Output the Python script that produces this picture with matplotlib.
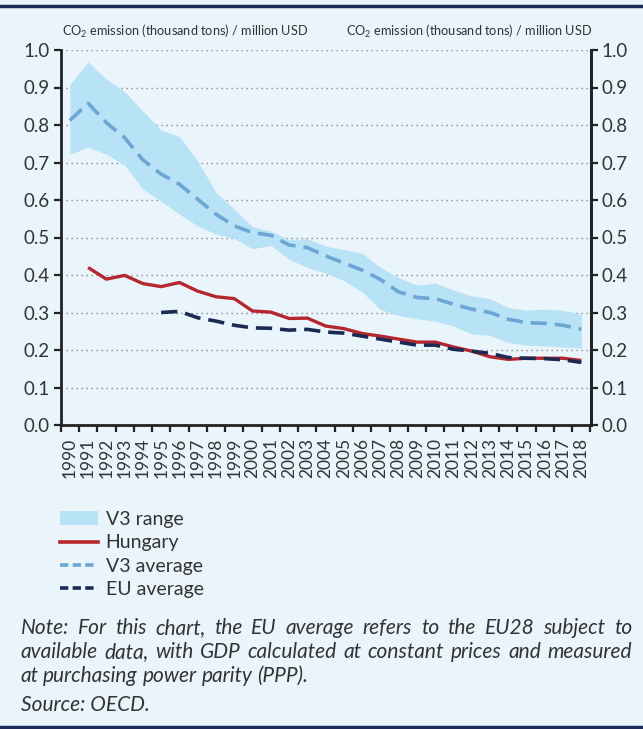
import matplotlib
matplotlib.use("Agg")
import matplotlib.pyplot as plt
import numpy as np
from matplotlib.patches import Patch
from matplotlib.lines import Line2D

plt.rcParams['font.family'] = ['Lato', 'DejaVu Sans']
plt.rcParams['mathtext.fontset'] = 'custom'
plt.rcParams['mathtext.rm'] = 'Lato'
plt.rcParams['mathtext.it'] = 'Lato:italic'

years = [str(y) for y in range(1990, 2019)]

v3_upper = [0.908, 0.968, 0.922, 0.889, 0.837, 0.786, 0.769, 0.704, 0.620, 0.575,
            0.529, 0.517, 0.495, 0.497, 0.477, 0.468, 0.458, 0.420, 0.393, 0.373,
            0.378, 0.360, 0.344, 0.337, 0.313, 0.306, 0.309, 0.306, 0.295]
v3_lower = [0.722, 0.741, 0.722, 0.693, 0.629, 0.597, 0.562, 0.531, 0.509, 0.497,
            0.470, 0.479, 0.442, 0.420, 0.405, 0.385, 0.355, 0.308, 0.292, 0.283,
            0.277, 0.264, 0.243, 0.239, 0.220, 0.213, 0.211, 0.208, 0.205]
v3_average = [0.812, 0.858, 0.806, 0.766, 0.707, 0.669, 0.642, 0.602, 0.562, 0.531,
              0.513, 0.506, 0.480, 0.473, 0.451, 0.432, 0.413, 0.388, 0.355, 0.340,
              0.337, 0.322, 0.309, 0.300, 0.282, 0.273, 0.271, 0.266, 0.255]
hungary = [None, 0.420, 0.389, 0.399, 0.377, 0.369, 0.380, 0.357, 0.342, 0.337,
           0.304, 0.301, 0.284, 0.285, 0.264, 0.257, 0.244, 0.237, 0.229, 0.221,
           0.221, 0.208, 0.197, 0.182, 0.175, 0.178, 0.178, 0.178, 0.172]
eu_average = [None, None, None, None, None, 0.300, 0.303, 0.286, 0.277, 0.266,
              0.259, 0.258, 0.253, 0.255, 0.248, 0.245, 0.237, 0.229, 0.221, 0.213,
              0.213, 0.202, 0.197, 0.191, 0.180, 0.178, 0.177, 0.174, 0.167]

axis_title = "CO$_2$ emission (thousand tons) / million USD"
legend_labels = ["V3 range", "Hungary", "V3 average", "EU average"]
note_lines = [
    "Note: For this chart, the EU average refers to the EU28 subject to",
    "available data, with GDP calculated at constant prices and measured",
    "at purchasing power parity (PPP).",
]
source_text = "Source: OECD."

BG = "#E9F4FB"
NAVY = "#1C2B5A"
TXT = "#333333"
C_RANGE = "#B8E2F5"
C_V3 = "#6CA6D4"
C_HU = "#B5272D"
C_EU = "#1B2A55"

W, H = 643, 729
fig = plt.figure(figsize=(W / 100, H / 100), dpi=100, facecolor=BG)

def fx(px):
    return px / W

def fy(py):
    return 1 - py / H

ax = fig.add_axes([fx(60.7), fy(425), fx(590.5) - fx(60.7), fy(50) - fy(425)])
ax.set_facecolor(BG)
x = np.arange(len(years))

def arr(v):
    return np.array([np.nan if a is None else a for a in v], dtype=float)

ax.fill_between(x, arr(v3_lower), arr(v3_upper), color=C_RANGE, lw=0, zorder=1)
ax.plot(x, arr(v3_average), color=C_V3, lw=2.6, dashes=(4.5, 2.2), zorder=3)
ax.plot(x, arr(hungary), color=C_HU, lw=2.4, zorder=4, solid_capstyle='butt')
ax.plot(x, arr(eu_average), color=C_EU, lw=2.6, dashes=(4.5, 2.2), zorder=5)

ax.set_xlim(-0.5, len(years) - 0.5)
ax.set_ylim(0, 1.0)
yt = np.round(np.arange(0, 1.01, 0.1), 1)
ax.set_yticks(yt)
ax.set_yticklabels([f"{v:.1f}" for v in yt])
for v in yt[1:]:
    ax.axhline(v, color="#8A8A8A", lw=1.0, ls=(0, (1, 2.6)), zorder=0.5)

ax.set_xticks(x)
ax.set_xticklabels(years, rotation=90, fontsize=12.5, color=TXT)
ax.set_xticks(np.arange(-0.5, len(years)), minor=True)
ax.tick_params(axis='x', which='major', length=0, pad=9)
ax.tick_params(axis='x', which='minor', length=5, width=1.6, color="#222222", direction='out')
ax.tick_params(axis='y', which='major', length=5, width=1.6, color="#222222",
               labelsize=13.5, labelcolor=TXT, pad=3)

ax.spines['top'].set_visible(False)
for s in ['left', 'right', 'bottom']:
    ax.spines[s].set_color("#222222")
    ax.spines[s].set_linewidth(2.0)

ax2 = ax.twinx()
ax2.set_ylim(0, 1.0)
ax2.set_yticks(yt)
ax2.set_yticklabels([f"{v:.1f}" for v in yt])
ax2.tick_params(axis='y', length=5, width=1.6, color="#222222", labelsize=13.5,
                labelcolor=TXT, pad=3)
for s in ['top', 'left', 'bottom']:
    ax2.spines[s].set_visible(False)
ax2.spines['right'].set_color("#222222")
ax2.spines['right'].set_linewidth(2.0)

fig.text(fx(62), fy(31), axis_title, fontsize=9.2, color=TXT, ha='left', va='center')
fig.text(fx(592), fy(31), axis_title, fontsize=9.2, color=TXT, ha='right', va='center')

# top / bottom borders
fig.add_artist(Line2D([0, 1], [fy(6), fy(6)], color=NAVY, lw=2.5, transform=fig.transFigure))
fig.add_artist(Line2D([0, 1], [fy(727), fy(727)], color=NAVY, lw=2.5, transform=fig.transFigure))

handles = [
    Patch(facecolor=C_RANGE, edgecolor='none'),
    Line2D([], [], color=C_HU, lw=2.6),
    Line2D([], [], color=C_V3, lw=2.6, dashes=(2.3, 1.2)),
    Line2D([], [], color=C_EU, lw=2.6, dashes=(2.3, 1.2)),
]
leg = fig.legend(handles, legend_labels, loc='upper left',
                 bbox_to_anchor=(fx(60), fy(511)), frameon=False, fontsize=14,
                 handlelength=1.95, handletextpad=0.4, labelspacing=0.33,
                 borderaxespad=0, borderpad=0)
for t in leg.get_texts():
    t.set_color(TXT)

# justified note text
fig.canvas.draw()
renderer = fig.canvas.get_renderer()
left_px, right_px = 20.5, 632.0
fs_note = 15
line_y = [628, 652, 676]
for li, (line, yy) in enumerate(zip(note_lines, line_y)):
    lw_ = line.split(" ")
    widths = []
    for w_ in lw_:
        t = fig.text(0, 0, w_, fontsize=fs_note, style='italic')
        widths.append(t.get_window_extent(renderer).width)
        t.remove()
    if li < len(note_lines) - 1:
        gap = (right_px - left_px - sum(widths)) / (len(lw_) - 1)
    else:
        gap = 4.8
    cx = left_px
    for w_, wd in zip(lw_, widths):
        fig.text(fx(cx), fy(yy), w_, fontsize=fs_note, style='italic', color=TXT,
                 ha='left', va='center')
        cx += wd + gap

fig.text(fx(20.5), fy(705), source_text, fontsize=fs_note, style='italic', color=TXT,
         ha='left', va='center')

fig.savefig("out.png", dpi=100, facecolor=BG)
